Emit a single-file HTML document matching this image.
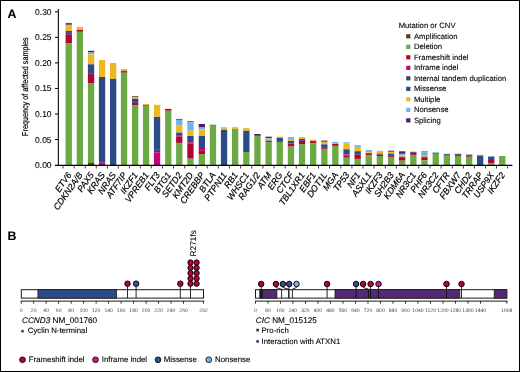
<!DOCTYPE html><html><head><meta charset="utf-8"><style>html,body{margin:0;padding:0;background:#fff;}svg{display:block;will-change:transform;font-family:"Liberation Sans",sans-serif;}</style></head><body>
<svg width="520" height="372" viewBox="0 0 520 372">
<style>text{stroke:#000;stroke-width:0.1px;text-rendering:geometricPrecision;}</style>
<rect x="0" y="0" width="520" height="372" fill="#fff"/>
<text x="7.5" y="18.0" font-size="12.3" font-weight="bold" fill="#000">A</text>
<text x="7.4" y="240.0" font-size="12.3" font-weight="bold" fill="#000">B</text>
<g fill="#000">
<rect x="57.8" y="9" width="1.05" height="156.6"/>
<rect x="55.0" y="139.05" width="3" height="1"/>
<rect x="55.0" y="113.50" width="3" height="1"/>
<rect x="55.0" y="87.95" width="3" height="1"/>
<rect x="55.0" y="62.40" width="3" height="1"/>
<rect x="55.0" y="36.85" width="3" height="1"/>
<rect x="55.0" y="11.30" width="3" height="1"/>
</g>
<g font-size="8.3" fill="#000" text-anchor="end">
<text x="51.6" y="168.05" font-size="8.5">0.00</text>
<text x="51.6" y="142.50" font-size="8.5">0.05</text>
<text x="51.6" y="116.95" font-size="8.5">0.10</text>
<text x="51.6" y="91.40" font-size="8.5">0.15</text>
<text x="51.6" y="65.85" font-size="8.5">0.20</text>
<text x="51.6" y="40.30" font-size="8.5">0.25</text>
<text x="51.6" y="14.75" font-size="8.5">0.30</text>
</g>
<text transform="translate(27.7,86.6) rotate(-90) scale(0.84,1)" text-anchor="middle" font-size="8.6" fill="#000" style="stroke:#000;stroke-width:0.22px">Frequency of affected samples</text>
<rect x="65.60" y="22.90" width="6.3" height="2.00" fill="#5a4888"/>
<rect x="65.60" y="24.90" width="6.3" height="6.10" fill="#ecba1f"/>
<rect x="65.60" y="31.00" width="6.3" height="1.90" fill="#2a4a88"/>
<rect x="65.60" y="32.90" width="6.3" height="1.40" fill="#c80078"/>
<rect x="65.60" y="34.30" width="6.3" height="8.80" fill="#ae0532"/>
<rect x="65.60" y="43.10" width="6.3" height="121.90" fill="#6aa944"/>
<rect x="76.70" y="26.90" width="6.3" height="0.80" fill="#70b3e6"/>
<rect x="76.70" y="27.70" width="6.3" height="2.30" fill="#ecba1f"/>
<rect x="76.70" y="30.00" width="6.3" height="1.80" fill="#ae0532"/>
<rect x="76.70" y="31.80" width="6.3" height="133.20" fill="#6aa944"/>
<rect x="87.90" y="50.80" width="6.3" height="1.70" fill="#4a1c6a"/>
<rect x="87.90" y="52.50" width="6.3" height="1.90" fill="#70b3e6"/>
<rect x="87.90" y="54.40" width="6.3" height="9.90" fill="#ecba1f"/>
<rect x="87.90" y="64.30" width="6.3" height="8.90" fill="#2a4a88"/>
<rect x="87.90" y="73.20" width="6.3" height="9.90" fill="#ae0532"/>
<rect x="87.90" y="83.10" width="6.3" height="79.90" fill="#6aa944"/>
<rect x="87.90" y="163.00" width="6.3" height="2.00" fill="#5c3814"/>
<rect x="98.90" y="59.90" width="6.3" height="17.10" fill="#ecba1f"/>
<rect x="98.90" y="77.00" width="6.3" height="85.60" fill="#2a4a88"/>
<rect x="98.90" y="162.60" width="6.3" height="2.40" fill="#c80078"/>
<rect x="110.00" y="62.90" width="6.3" height="16.00" fill="#ecba1f"/>
<rect x="110.00" y="78.90" width="6.3" height="86.10" fill="#2a4a88"/>
<rect x="120.90" y="68.90" width="6.3" height="1.90" fill="#ecba1f"/>
<rect x="120.90" y="70.80" width="6.3" height="1.10" fill="#2a4a88"/>
<rect x="120.90" y="71.90" width="6.3" height="0.85" fill="#ae0532"/>
<rect x="120.90" y="72.75" width="6.3" height="92.25" fill="#6aa944"/>
<rect x="132.00" y="96.00" width="6.3" height="0.80" fill="#4a1c6a"/>
<rect x="132.00" y="96.80" width="6.3" height="2.00" fill="#ecba1f"/>
<rect x="132.00" y="98.80" width="6.3" height="4.00" fill="#2a4a88"/>
<rect x="132.00" y="102.80" width="6.3" height="2.40" fill="#ae0532"/>
<rect x="132.00" y="105.20" width="6.3" height="59.80" fill="#6aa944"/>
<rect x="142.90" y="104.10" width="6.3" height="0.80" fill="#ecba1f"/>
<rect x="142.90" y="104.90" width="6.3" height="0.80" fill="#ae0532"/>
<rect x="142.90" y="105.70" width="6.3" height="59.30" fill="#6aa944"/>
<rect x="153.90" y="104.80" width="6.3" height="12.20" fill="#ecba1f"/>
<rect x="153.90" y="117.00" width="6.3" height="32.80" fill="#2a4a88"/>
<rect x="153.90" y="149.80" width="6.3" height="2.50" fill="#3d4463"/>
<rect x="153.90" y="152.30" width="6.3" height="12.70" fill="#c80078"/>
<rect x="165.10" y="108.90" width="6.3" height="1.90" fill="#ae0532"/>
<rect x="165.10" y="110.80" width="6.3" height="54.20" fill="#6aa944"/>
<rect x="176.10" y="118.90" width="6.3" height="0.90" fill="#4a1c6a"/>
<rect x="176.10" y="119.80" width="6.3" height="5.70" fill="#70b3e6"/>
<rect x="176.10" y="125.50" width="6.3" height="7.10" fill="#ecba1f"/>
<rect x="176.10" y="132.60" width="6.3" height="3.20" fill="#2a4a88"/>
<rect x="176.10" y="135.80" width="6.3" height="0.60" fill="#c80078"/>
<rect x="176.10" y="136.40" width="6.3" height="6.50" fill="#ae0532"/>
<rect x="176.10" y="142.90" width="6.3" height="22.10" fill="#6aa944"/>
<rect x="187.30" y="121.30" width="6.3" height="0.90" fill="#4a1c6a"/>
<rect x="187.30" y="122.20" width="6.3" height="8.30" fill="#70b3e6"/>
<rect x="187.30" y="130.50" width="6.3" height="5.50" fill="#ecba1f"/>
<rect x="187.30" y="136.00" width="6.3" height="6.30" fill="#2a4a88"/>
<rect x="187.30" y="142.30" width="6.3" height="1.40" fill="#c80078"/>
<rect x="187.30" y="143.70" width="6.3" height="15.00" fill="#ae0532"/>
<rect x="187.30" y="158.70" width="6.3" height="6.30" fill="#6aa944"/>
<rect x="198.70" y="124.00" width="6.3" height="3.50" fill="#4a1c6a"/>
<rect x="198.70" y="127.50" width="6.3" height="2.00" fill="#70b3e6"/>
<rect x="198.70" y="129.50" width="6.3" height="6.50" fill="#ecba1f"/>
<rect x="198.70" y="136.00" width="6.3" height="12.00" fill="#2a4a88"/>
<rect x="198.70" y="148.00" width="6.3" height="2.80" fill="#c80078"/>
<rect x="198.70" y="150.80" width="6.3" height="3.30" fill="#ae0532"/>
<rect x="198.70" y="154.10" width="6.3" height="10.90" fill="#6aa944"/>
<rect x="209.80" y="124.60" width="6.3" height="40.40" fill="#6aa944"/>
<rect x="220.90" y="127.20" width="6.3" height="2.60" fill="#ecba1f"/>
<rect x="220.90" y="129.80" width="6.3" height="35.20" fill="#2a4a88"/>
<rect x="232.00" y="127.20" width="6.3" height="1.70" fill="#ecba1f"/>
<rect x="232.00" y="128.90" width="6.3" height="36.10" fill="#6aa944"/>
<rect x="243.20" y="128.10" width="6.3" height="2.70" fill="#ecba1f"/>
<rect x="243.20" y="130.80" width="6.3" height="21.20" fill="#2a4a88"/>
<rect x="243.20" y="152.00" width="6.3" height="13.00" fill="#6aa944"/>
<rect x="254.30" y="134.00" width="6.3" height="1.20" fill="#4a1c6a"/>
<rect x="254.30" y="135.20" width="6.3" height="0.80" fill="#ae0532"/>
<rect x="254.30" y="136.00" width="6.3" height="29.00" fill="#6aa944"/>
<rect x="265.50" y="136.70" width="6.3" height="1.50" fill="#4a1c6a"/>
<rect x="265.50" y="138.20" width="6.3" height="0.60" fill="#70b3e6"/>
<rect x="265.50" y="138.80" width="6.3" height="1.90" fill="#ecba1f"/>
<rect x="265.50" y="140.70" width="6.3" height="1.80" fill="#2a4a88"/>
<rect x="265.50" y="142.50" width="6.3" height="22.50" fill="#6aa944"/>
<rect x="276.60" y="136.70" width="6.3" height="1.10" fill="#ecba1f"/>
<rect x="276.60" y="137.80" width="6.3" height="3.20" fill="#2a4a88"/>
<rect x="276.60" y="141.00" width="6.3" height="0.90" fill="#ae0532"/>
<rect x="276.60" y="141.90" width="6.3" height="23.10" fill="#6aa944"/>
<rect x="287.80" y="137.00" width="6.3" height="1.90" fill="#70b3e6"/>
<rect x="287.80" y="138.90" width="6.3" height="2.00" fill="#ecba1f"/>
<rect x="287.80" y="140.90" width="6.3" height="2.40" fill="#2a4a88"/>
<rect x="287.80" y="143.30" width="6.3" height="0.60" fill="#c80078"/>
<rect x="287.80" y="143.90" width="6.3" height="2.70" fill="#ae0532"/>
<rect x="287.80" y="146.60" width="6.3" height="18.40" fill="#6aa944"/>
<rect x="298.90" y="137.00" width="6.3" height="0.80" fill="#70b3e6"/>
<rect x="298.90" y="137.80" width="6.3" height="1.20" fill="#ecba1f"/>
<rect x="298.90" y="139.00" width="6.3" height="1.80" fill="#2a4a88"/>
<rect x="298.90" y="140.80" width="6.3" height="3.70" fill="#ae0532"/>
<rect x="298.90" y="144.50" width="6.3" height="20.50" fill="#6aa944"/>
<rect x="310.00" y="139.80" width="6.3" height="1.10" fill="#ecba1f"/>
<rect x="310.00" y="140.90" width="6.3" height="1.00" fill="#2a4a88"/>
<rect x="310.00" y="141.90" width="6.3" height="1.40" fill="#ae0532"/>
<rect x="310.00" y="143.30" width="6.3" height="21.70" fill="#6aa944"/>
<rect x="321.20" y="140.60" width="6.3" height="1.20" fill="#4a1c6a"/>
<rect x="321.20" y="141.80" width="6.3" height="2.60" fill="#ecba1f"/>
<rect x="321.20" y="144.40" width="6.3" height="3.40" fill="#2a4a88"/>
<rect x="321.20" y="147.80" width="6.3" height="1.10" fill="#ae0532"/>
<rect x="321.20" y="148.90" width="6.3" height="16.10" fill="#6aa944"/>
<rect x="332.20" y="141.90" width="6.3" height="1.10" fill="#70b3e6"/>
<rect x="332.20" y="143.00" width="6.3" height="1.00" fill="#ecba1f"/>
<rect x="332.20" y="144.00" width="6.3" height="1.90" fill="#ae0532"/>
<rect x="332.20" y="145.90" width="6.3" height="19.10" fill="#6aa944"/>
<rect x="343.40" y="142.20" width="6.3" height="1.40" fill="#70b3e6"/>
<rect x="343.40" y="143.60" width="6.3" height="5.70" fill="#ecba1f"/>
<rect x="343.40" y="149.30" width="6.3" height="5.20" fill="#2a4a88"/>
<rect x="343.40" y="154.50" width="6.3" height="1.10" fill="#c80078"/>
<rect x="343.40" y="155.60" width="6.3" height="2.10" fill="#ae0532"/>
<rect x="343.40" y="157.70" width="6.3" height="7.30" fill="#6aa944"/>
<rect x="354.50" y="145.10" width="6.3" height="1.80" fill="#70b3e6"/>
<rect x="354.50" y="146.90" width="6.3" height="4.30" fill="#ecba1f"/>
<rect x="354.50" y="151.20" width="6.3" height="3.40" fill="#2a4a88"/>
<rect x="354.50" y="154.60" width="6.3" height="4.30" fill="#ae0532"/>
<rect x="354.50" y="158.90" width="6.3" height="6.10" fill="#6aa944"/>
<rect x="365.60" y="150.00" width="6.3" height="2.20" fill="#70b3e6"/>
<rect x="365.60" y="152.20" width="6.3" height="0.80" fill="#ecba1f"/>
<rect x="365.60" y="153.00" width="6.3" height="0.70" fill="#2a4a88"/>
<rect x="365.60" y="153.70" width="6.3" height="1.50" fill="#ae0532"/>
<rect x="365.60" y="155.20" width="6.3" height="9.80" fill="#6aa944"/>
<rect x="376.70" y="150.90" width="6.3" height="0.90" fill="#70b3e6"/>
<rect x="376.70" y="151.80" width="6.3" height="1.90" fill="#ecba1f"/>
<rect x="376.70" y="153.70" width="6.3" height="0.90" fill="#2a4a88"/>
<rect x="376.70" y="154.60" width="6.3" height="1.40" fill="#ae0532"/>
<rect x="376.70" y="156.00" width="6.3" height="9.00" fill="#6aa944"/>
<rect x="387.90" y="150.70" width="6.3" height="1.10" fill="#4a1c6a"/>
<rect x="387.90" y="151.80" width="6.3" height="1.90" fill="#ecba1f"/>
<rect x="387.90" y="153.70" width="6.3" height="1.50" fill="#2a4a88"/>
<rect x="387.90" y="155.20" width="6.3" height="1.70" fill="#ae0532"/>
<rect x="387.90" y="156.90" width="6.3" height="8.10" fill="#6aa944"/>
<rect x="399.00" y="151.30" width="6.3" height="2.50" fill="#4a1c6a"/>
<rect x="399.00" y="153.80" width="6.3" height="1.70" fill="#70b3e6"/>
<rect x="399.00" y="155.50" width="6.3" height="1.30" fill="#ecba1f"/>
<rect x="399.00" y="156.80" width="6.3" height="1.00" fill="#2a4a88"/>
<rect x="399.00" y="157.80" width="6.3" height="2.90" fill="#ae0532"/>
<rect x="399.00" y="160.70" width="6.3" height="4.30" fill="#6aa944"/>
<rect x="410.20" y="151.60" width="6.3" height="0.60" fill="#70b3e6"/>
<rect x="410.20" y="152.20" width="6.3" height="0.70" fill="#4a1c6a"/>
<rect x="410.20" y="152.90" width="6.3" height="2.00" fill="#ae0532"/>
<rect x="410.20" y="154.90" width="6.3" height="10.10" fill="#6aa944"/>
<rect x="421.30" y="151.30" width="6.3" height="0.50" fill="#4a1c6a"/>
<rect x="421.30" y="151.80" width="6.3" height="4.00" fill="#70b3e6"/>
<rect x="421.30" y="155.80" width="6.3" height="1.00" fill="#ecba1f"/>
<rect x="421.30" y="156.80" width="6.3" height="1.00" fill="#2a4a88"/>
<rect x="421.30" y="157.80" width="6.3" height="2.60" fill="#ae0532"/>
<rect x="421.30" y="160.40" width="6.3" height="4.60" fill="#6aa944"/>
<rect x="432.60" y="152.30" width="6.3" height="0.60" fill="#70b3e6"/>
<rect x="432.60" y="152.90" width="6.3" height="0.90" fill="#2a4a88"/>
<rect x="432.60" y="153.80" width="6.3" height="11.20" fill="#6aa944"/>
<rect x="443.70" y="153.60" width="6.3" height="0.60" fill="#ecba1f"/>
<rect x="443.70" y="154.20" width="6.3" height="1.50" fill="#2a4a88"/>
<rect x="443.70" y="155.70" width="6.3" height="9.30" fill="#6aa944"/>
<rect x="454.90" y="153.80" width="6.3" height="0.90" fill="#4a1c6a"/>
<rect x="454.90" y="154.70" width="6.3" height="1.20" fill="#ae0532"/>
<rect x="454.90" y="155.90" width="6.3" height="9.10" fill="#6aa944"/>
<rect x="466.00" y="154.60" width="6.3" height="1.20" fill="#2a4a88"/>
<rect x="466.00" y="155.80" width="6.3" height="1.00" fill="#ae0532"/>
<rect x="466.00" y="156.80" width="6.3" height="8.20" fill="#6aa944"/>
<rect x="477.00" y="154.70" width="6.3" height="0.90" fill="#ecba1f"/>
<rect x="477.00" y="155.60" width="6.3" height="9.40" fill="#2a4a88"/>
<rect x="488.10" y="156.00" width="6.3" height="0.80" fill="#70b3e6"/>
<rect x="488.10" y="156.80" width="6.3" height="3.20" fill="#2a4a88"/>
<rect x="488.10" y="160.00" width="6.3" height="3.00" fill="#ae0532"/>
<rect x="488.10" y="163.00" width="6.3" height="2.00" fill="#6aa944"/>
<rect x="499.10" y="156.00" width="6.3" height="9.00" fill="#6aa944"/>
<rect x="55.0" y="164.75" width="457.4" height="1.25" fill="#000"/>
<g fill="#444">
<rect x="62.50" y="165.7" width="1" height="2.8"/>
<rect x="73.60" y="165.7" width="1" height="2.8"/>
<rect x="84.80" y="165.7" width="1" height="2.8"/>
<rect x="95.80" y="165.7" width="1" height="2.8"/>
<rect x="106.90" y="165.7" width="1" height="2.8"/>
<rect x="117.80" y="165.7" width="1" height="2.8"/>
<rect x="128.90" y="165.7" width="1" height="2.8"/>
<rect x="139.80" y="165.7" width="1" height="2.8"/>
<rect x="150.80" y="165.7" width="1" height="2.8"/>
<rect x="162.00" y="165.7" width="1" height="2.8"/>
<rect x="173.00" y="165.7" width="1" height="2.8"/>
<rect x="184.20" y="165.7" width="1" height="2.8"/>
<rect x="195.60" y="165.7" width="1" height="2.8"/>
<rect x="206.70" y="165.7" width="1" height="2.8"/>
<rect x="217.80" y="165.7" width="1" height="2.8"/>
<rect x="228.90" y="165.7" width="1" height="2.8"/>
<rect x="240.10" y="165.7" width="1" height="2.8"/>
<rect x="251.20" y="165.7" width="1" height="2.8"/>
<rect x="262.40" y="165.7" width="1" height="2.8"/>
<rect x="273.50" y="165.7" width="1" height="2.8"/>
<rect x="284.70" y="165.7" width="1" height="2.8"/>
<rect x="295.80" y="165.7" width="1" height="2.8"/>
<rect x="306.90" y="165.7" width="1" height="2.8"/>
<rect x="318.10" y="165.7" width="1" height="2.8"/>
<rect x="329.10" y="165.7" width="1" height="2.8"/>
<rect x="340.30" y="165.7" width="1" height="2.8"/>
<rect x="351.40" y="165.7" width="1" height="2.8"/>
<rect x="362.50" y="165.7" width="1" height="2.8"/>
<rect x="373.60" y="165.7" width="1" height="2.8"/>
<rect x="384.80" y="165.7" width="1" height="2.8"/>
<rect x="395.90" y="165.7" width="1" height="2.8"/>
<rect x="407.10" y="165.7" width="1" height="2.8"/>
<rect x="418.20" y="165.7" width="1" height="2.8"/>
<rect x="429.50" y="165.7" width="1" height="2.8"/>
<rect x="440.60" y="165.7" width="1" height="2.8"/>
<rect x="451.80" y="165.7" width="1" height="2.8"/>
<rect x="462.90" y="165.7" width="1" height="2.8"/>
<rect x="473.90" y="165.7" width="1" height="2.8"/>
<rect x="485.00" y="165.7" width="1" height="2.8"/>
<rect x="496.00" y="165.7" width="1" height="2.8"/>
<rect x="507.12" y="165.7" width="1" height="2.8"/>
</g>
<g font-size="9.0" font-style="italic" fill="#000" text-anchor="end" style="stroke-width:0.1px">
<text transform="translate(71.95,175.0) rotate(-55) scale(0.97,1)" style="stroke-width:0.2px">ETV6</text>
<text transform="translate(83.05,175.0) rotate(-55) scale(0.97,1)" style="stroke-width:0.2px">CDKN2A/B</text>
<text transform="translate(94.25,175.0) rotate(-55) scale(0.97,1)" style="stroke-width:0.2px">PAX5</text>
<text transform="translate(105.25,175.0) rotate(-55) scale(0.97,1)" style="stroke-width:0.2px">KRAS</text>
<text transform="translate(116.35,175.0) rotate(-55) scale(0.97,1)" style="stroke-width:0.2px">NRAS</text>
<text transform="translate(127.25,175.0) rotate(-55) scale(0.97,1)" style="stroke-width:0.2px">ATF7IP</text>
<text transform="translate(138.35,175.0) rotate(-55) scale(0.97,1)" style="stroke-width:0.2px">IKZF1</text>
<text transform="translate(149.25,175.0) rotate(-55) scale(0.97,1)" style="stroke-width:0.2px">VPREB1</text>
<text transform="translate(160.25,175.0) rotate(-55) scale(0.97,1)" style="stroke-width:0.2px">FLT3</text>
<text transform="translate(171.45,175.0) rotate(-55) scale(0.97,1)" style="stroke-width:0.2px">BTG1</text>
<text transform="translate(182.45,175.0) rotate(-55) scale(0.97,1)" style="stroke-width:0.2px">SETD2</text>
<text transform="translate(193.65,175.0) rotate(-55) scale(0.97,1)" style="stroke-width:0.2px">KMT2D</text>
<text transform="translate(205.05,175.0) rotate(-55) scale(0.97,1)" style="stroke-width:0.2px">CREBBP</text>
<text transform="translate(216.15,175.0) rotate(-55) scale(0.97,1)" style="stroke-width:0.2px">BTLA</text>
<text transform="translate(227.25,175.0) rotate(-55) scale(0.97,1)" style="stroke-width:0.2px">PTPN11</text>
<text transform="translate(238.35,175.0) rotate(-55) scale(0.97,1)" style="stroke-width:0.2px">RB1</text>
<text transform="translate(249.55,175.0) rotate(-55) scale(0.97,1)" style="stroke-width:0.2px">WHSC1</text>
<text transform="translate(260.65,175.0) rotate(-55) scale(0.97,1)" style="stroke-width:0.2px">RAG1/2</text>
<text transform="translate(271.85,175.0) rotate(-55) scale(0.97,1)" style="stroke-width:0.2px">ATM</text>
<text transform="translate(282.95,175.0) rotate(-55) scale(0.97,1)" style="stroke-width:0.2px">ERG</text>
<text transform="translate(294.15,175.0) rotate(-55) scale(0.97,1)" style="stroke-width:0.2px">CTCF</text>
<text transform="translate(305.25,175.0) rotate(-55) scale(0.97,1)" style="stroke-width:0.2px">TBL1XR1</text>
<text transform="translate(316.35,175.0) rotate(-55) scale(0.97,1)" style="stroke-width:0.2px">EBF1</text>
<text transform="translate(327.55,175.0) rotate(-55) scale(0.97,1)" style="stroke-width:0.2px">DOT1L</text>
<text transform="translate(338.55,175.0) rotate(-55) scale(0.97,1)" style="stroke-width:0.2px">MGA</text>
<text transform="translate(349.75,175.0) rotate(-55) scale(0.97,1)" style="stroke-width:0.2px">TP53</text>
<text transform="translate(360.85,175.0) rotate(-55) scale(0.97,1)" style="stroke-width:0.2px">NF1</text>
<text transform="translate(371.95,175.0) rotate(-55) scale(0.97,1)" style="stroke-width:0.2px">ASXL1</text>
<text transform="translate(383.05,175.0) rotate(-55) scale(0.97,1)" style="stroke-width:0.2px">IKZF3</text>
<text transform="translate(394.25,175.0) rotate(-55) scale(0.97,1)" style="stroke-width:0.2px">SH2B3</text>
<text transform="translate(405.35,175.0) rotate(-55) scale(0.97,1)" style="stroke-width:0.2px">KDM6A</text>
<text transform="translate(416.55,175.0) rotate(-55) scale(0.97,1)" style="stroke-width:0.2px">NR3C1</text>
<text transform="translate(427.65,175.0) rotate(-55) scale(0.97,1)" style="stroke-width:0.2px">PHF6</text>
<text transform="translate(438.95,175.0) rotate(-55) scale(0.97,1)" style="stroke-width:0.2px">NR3C2</text>
<text transform="translate(450.05,175.0) rotate(-55) scale(0.97,1)" style="stroke-width:0.2px">CFTR</text>
<text transform="translate(461.25,175.0) rotate(-55) scale(0.97,1)" style="stroke-width:0.2px">FBXW7</text>
<text transform="translate(472.35,175.0) rotate(-55) scale(0.97,1)" style="stroke-width:0.2px">CHD2</text>
<text transform="translate(483.35,175.0) rotate(-55) scale(0.97,1)" style="stroke-width:0.2px">TRRAP</text>
<text transform="translate(494.45,175.0) rotate(-55) scale(0.97,1)" style="stroke-width:0.2px">USP9X</text>
<text transform="translate(505.45,175.0) rotate(-55) scale(0.97,1)" style="stroke-width:0.2px">IKZF2</text>
</g>
<text x="398.7" y="27.9" font-size="7.7" fill="#000">Mutation or CNV</text>
<rect x="406.2" y="34.20" width="4.2" height="4.2" fill="#5c3814"/>
<text x="413.9" y="38.55" font-size="7.7" fill="#000">Amplification</text>
<rect x="406.2" y="44.71" width="4.2" height="4.2" fill="#6aa944"/>
<text x="413.9" y="49.06" font-size="7.7" fill="#000">Deletion</text>
<rect x="406.2" y="55.22" width="4.2" height="4.2" fill="#ae0532"/>
<text x="413.9" y="59.57" font-size="7.7" fill="#000">Frameshift indel</text>
<rect x="406.2" y="65.73" width="4.2" height="4.2" fill="#c80078"/>
<text x="413.9" y="70.08" font-size="7.7" fill="#000">Inframe indel</text>
<rect x="406.2" y="76.24" width="4.2" height="4.2" fill="#3d4463"/>
<text x="413.9" y="80.59" font-size="7.7" fill="#000">Internal tandem duplication</text>
<rect x="406.2" y="86.75" width="4.2" height="4.2" fill="#2a4a88"/>
<text x="413.9" y="91.10" font-size="7.7" fill="#000">Missense</text>
<rect x="406.2" y="97.26" width="4.2" height="4.2" fill="#ecba1f"/>
<text x="413.9" y="101.61" font-size="7.7" fill="#000">Multiple</text>
<rect x="406.2" y="107.77" width="4.2" height="4.2" fill="#70b3e6"/>
<text x="413.9" y="112.12" font-size="7.7" fill="#000">Nonsense</text>
<rect x="406.2" y="118.28" width="4.2" height="4.2" fill="#4a1c6a"/>
<text x="413.9" y="122.63" font-size="7.7" fill="#000">Splicing</text>
<rect x="21.30" y="289.70" width="182.20" height="8.40" fill="#fff" stroke="#1a1a1a" stroke-width="1"/>
<rect x="37.90" y="289.70" width="78.70" height="8.40" fill="#2c4a8a" stroke="#1a1a1a" stroke-width="0.8"/>
<rect x="20.80" y="300.60" width="183.40" height="1" fill="#1a1a1a"/>
<rect x="20.75" y="301.10" width="0.9" height="2.6" fill="#1a1a1a"/>
<text x="21.20" y="311.70" font-size="5.1" fill="#4a4a4a" text-anchor="middle" style="stroke:none">0</text>
<rect x="33.24" y="301.10" width="0.9" height="2.6" fill="#1a1a1a"/>
<text x="33.69" y="311.70" font-size="5.1" fill="#4a4a4a" text-anchor="middle" style="stroke:none">20</text>
<rect x="45.73" y="301.10" width="0.9" height="2.6" fill="#1a1a1a"/>
<text x="46.18" y="311.70" font-size="5.1" fill="#4a4a4a" text-anchor="middle" style="stroke:none">40</text>
<rect x="58.22" y="301.10" width="0.9" height="2.6" fill="#1a1a1a"/>
<text x="58.67" y="311.70" font-size="5.1" fill="#4a4a4a" text-anchor="middle" style="stroke:none">60</text>
<rect x="70.71" y="301.10" width="0.9" height="2.6" fill="#1a1a1a"/>
<text x="71.16" y="311.70" font-size="5.1" fill="#4a4a4a" text-anchor="middle" style="stroke:none">80</text>
<rect x="83.20" y="301.10" width="0.9" height="2.6" fill="#1a1a1a"/>
<text x="83.65" y="311.70" font-size="5.1" fill="#4a4a4a" text-anchor="middle" style="stroke:none">100</text>
<rect x="95.69" y="301.10" width="0.9" height="2.6" fill="#1a1a1a"/>
<text x="96.14" y="311.70" font-size="5.1" fill="#4a4a4a" text-anchor="middle" style="stroke:none">120</text>
<rect x="108.18" y="301.10" width="0.9" height="2.6" fill="#1a1a1a"/>
<text x="108.63" y="311.70" font-size="5.1" fill="#4a4a4a" text-anchor="middle" style="stroke:none">140</text>
<rect x="120.67" y="301.10" width="0.9" height="2.6" fill="#1a1a1a"/>
<text x="121.12" y="311.70" font-size="5.1" fill="#4a4a4a" text-anchor="middle" style="stroke:none">160</text>
<rect x="133.16" y="301.10" width="0.9" height="2.6" fill="#1a1a1a"/>
<text x="133.61" y="311.70" font-size="5.1" fill="#4a4a4a" text-anchor="middle" style="stroke:none">180</text>
<rect x="145.65" y="301.10" width="0.9" height="2.6" fill="#1a1a1a"/>
<text x="146.10" y="311.70" font-size="5.1" fill="#4a4a4a" text-anchor="middle" style="stroke:none">200</text>
<rect x="158.14" y="301.10" width="0.9" height="2.6" fill="#1a1a1a"/>
<text x="158.59" y="311.70" font-size="5.1" fill="#4a4a4a" text-anchor="middle" style="stroke:none">220</text>
<rect x="170.63" y="301.10" width="0.9" height="2.6" fill="#1a1a1a"/>
<text x="171.08" y="311.70" font-size="5.1" fill="#4a4a4a" text-anchor="middle" style="stroke:none">240</text>
<rect x="183.12" y="301.10" width="0.9" height="2.6" fill="#1a1a1a"/>
<text x="183.57" y="311.70" font-size="5.1" fill="#4a4a4a" text-anchor="middle" style="stroke:none">260</text>
<rect x="203.10" y="301.10" width="0.9" height="2.6" fill="#1a1a1a"/>
<text x="203.55" y="311.70" font-size="5.1" fill="#4a4a4a" text-anchor="middle" style="stroke:none">292</text>
<line x1="127.50" y1="283.70" x2="127.50" y2="298.10" stroke="#111" stroke-width="0.9"/>
<line x1="136.10" y1="283.70" x2="136.10" y2="298.10" stroke="#111" stroke-width="0.9"/>
<line x1="180.30" y1="283.70" x2="180.30" y2="298.10" stroke="#111" stroke-width="0.9"/>
<line x1="190.50" y1="283.70" x2="190.50" y2="298.10" stroke="#111" stroke-width="0.9"/>
<circle cx="127.50" cy="283.70" r="2.75" fill="#b8023a" stroke="#000" stroke-width="0.95"/>
<circle cx="136.10" cy="283.70" r="2.75" fill="#30528f" stroke="#000" stroke-width="0.95"/>
<circle cx="180.30" cy="283.70" r="2.75" fill="#b8023a" stroke="#000" stroke-width="0.95"/>
<circle cx="190.50" cy="283.70" r="2.65" fill="#b8023a" stroke="#000" stroke-width="0.95"/>
<circle cx="196.60" cy="283.70" r="2.65" fill="#b8023a" stroke="#000" stroke-width="0.95"/>
<circle cx="190.50" cy="278.40" r="2.65" fill="#b8023a" stroke="#000" stroke-width="0.95"/>
<circle cx="196.60" cy="278.40" r="2.65" fill="#b8023a" stroke="#000" stroke-width="0.95"/>
<circle cx="190.50" cy="273.10" r="2.65" fill="#b8023a" stroke="#000" stroke-width="0.95"/>
<circle cx="196.60" cy="273.10" r="2.65" fill="#b8023a" stroke="#000" stroke-width="0.95"/>
<circle cx="190.50" cy="267.80" r="2.65" fill="#b8023a" stroke="#000" stroke-width="0.95"/>
<circle cx="196.60" cy="267.80" r="2.65" fill="#b8023a" stroke="#000" stroke-width="0.95"/>
<circle cx="190.50" cy="262.50" r="2.65" fill="#b8023a" stroke="#000" stroke-width="0.95"/>
<circle cx="196.60" cy="262.50" r="2.65" fill="#b8023a" stroke="#000" stroke-width="0.95"/>
<text transform="translate(196.3,256.4) rotate(-90)" font-size="8.3" fill="#000">R271fs</text>
<rect x="255.50" y="289.70" width="251.00" height="8.40" fill="#fff" stroke="#1a1a1a" stroke-width="1"/>
<rect x="262.30" y="289.70" width="14.60" height="8.40" fill="#552974" stroke="#1a1a1a" stroke-width="0.8"/>
<rect x="335.00" y="289.70" width="124.80" height="8.40" fill="#552974" stroke="#1a1a1a" stroke-width="0.8"/>
<rect x="494.20" y="289.70" width="12.80" height="8.40" fill="#552974" stroke="#1a1a1a" stroke-width="0.8"/>
<rect x="259.80" y="289.70" width="2.50" height="8.40" fill="#14244f" stroke="#1a1a1a" stroke-width="0.8"/>
<rect x="255.00" y="300.60" width="252.50" height="1" fill="#1a1a1a"/>
<rect x="254.95" y="301.10" width="0.9" height="2.6" fill="#1a1a1a"/>
<text x="255.40" y="311.70" font-size="5.1" fill="#4a4a4a" text-anchor="middle" style="stroke:none">0</text>
<rect x="267.46" y="301.10" width="0.9" height="2.6" fill="#1a1a1a"/>
<text x="267.91" y="311.70" font-size="5.1" fill="#4a4a4a" text-anchor="middle" style="stroke:none">80</text>
<rect x="279.97" y="301.10" width="0.9" height="2.6" fill="#1a1a1a"/>
<text x="280.42" y="311.70" font-size="5.1" fill="#4a4a4a" text-anchor="middle" style="stroke:none">160</text>
<rect x="292.47" y="301.10" width="0.9" height="2.6" fill="#1a1a1a"/>
<text x="292.92" y="311.70" font-size="5.1" fill="#4a4a4a" text-anchor="middle" style="stroke:none">240</text>
<rect x="304.98" y="301.10" width="0.9" height="2.6" fill="#1a1a1a"/>
<text x="305.43" y="311.70" font-size="5.1" fill="#4a4a4a" text-anchor="middle" style="stroke:none">320</text>
<rect x="317.49" y="301.10" width="0.9" height="2.6" fill="#1a1a1a"/>
<text x="317.94" y="311.70" font-size="5.1" fill="#4a4a4a" text-anchor="middle" style="stroke:none">400</text>
<rect x="330.00" y="301.10" width="0.9" height="2.6" fill="#1a1a1a"/>
<text x="330.45" y="311.70" font-size="5.1" fill="#4a4a4a" text-anchor="middle" style="stroke:none">480</text>
<rect x="342.51" y="301.10" width="0.9" height="2.6" fill="#1a1a1a"/>
<text x="342.96" y="311.70" font-size="5.1" fill="#4a4a4a" text-anchor="middle" style="stroke:none">560</text>
<rect x="355.01" y="301.10" width="0.9" height="2.6" fill="#1a1a1a"/>
<text x="355.46" y="311.70" font-size="5.1" fill="#4a4a4a" text-anchor="middle" style="stroke:none">640</text>
<rect x="367.52" y="301.10" width="0.9" height="2.6" fill="#1a1a1a"/>
<text x="367.97" y="311.70" font-size="5.1" fill="#4a4a4a" text-anchor="middle" style="stroke:none">720</text>
<rect x="380.03" y="301.10" width="0.9" height="2.6" fill="#1a1a1a"/>
<text x="380.48" y="311.70" font-size="5.1" fill="#4a4a4a" text-anchor="middle" style="stroke:none">800</text>
<rect x="392.54" y="301.10" width="0.9" height="2.6" fill="#1a1a1a"/>
<text x="392.99" y="311.70" font-size="5.1" fill="#4a4a4a" text-anchor="middle" style="stroke:none">880</text>
<rect x="405.05" y="301.10" width="0.9" height="2.6" fill="#1a1a1a"/>
<text x="405.50" y="311.70" font-size="5.1" fill="#4a4a4a" text-anchor="middle" style="stroke:none">960</text>
<rect x="417.55" y="301.10" width="0.9" height="2.6" fill="#1a1a1a"/>
<text x="418.00" y="311.70" font-size="5.1" fill="#4a4a4a" text-anchor="middle" style="stroke:none">1040</text>
<rect x="430.06" y="301.10" width="0.9" height="2.6" fill="#1a1a1a"/>
<text x="430.51" y="311.70" font-size="5.1" fill="#4a4a4a" text-anchor="middle" style="stroke:none">1120</text>
<rect x="442.57" y="301.10" width="0.9" height="2.6" fill="#1a1a1a"/>
<text x="443.02" y="311.70" font-size="5.1" fill="#4a4a4a" text-anchor="middle" style="stroke:none">1200</text>
<rect x="455.08" y="301.10" width="0.9" height="2.6" fill="#1a1a1a"/>
<text x="455.53" y="311.70" font-size="5.1" fill="#4a4a4a" text-anchor="middle" style="stroke:none">1280</text>
<rect x="467.59" y="301.10" width="0.9" height="2.6" fill="#1a1a1a"/>
<text x="468.04" y="311.70" font-size="5.1" fill="#4a4a4a" text-anchor="middle" style="stroke:none">1360</text>
<rect x="480.09" y="301.10" width="0.9" height="2.6" fill="#1a1a1a"/>
<text x="480.54" y="311.70" font-size="5.1" fill="#4a4a4a" text-anchor="middle" style="stroke:none">1440</text>
<rect x="506.36" y="301.10" width="0.9" height="2.6" fill="#1a1a1a"/>
<text x="506.81" y="311.70" font-size="5.1" fill="#4a4a4a" text-anchor="middle" style="stroke:none">1608</text>
<line x1="261.20" y1="284.00" x2="261.20" y2="298.10" stroke="#111" stroke-width="0.9"/>
<polyline points="275.90,284.00 275.90,287.50 281.60,289.20 281.60,298.10" fill="none" stroke="#111" stroke-width="0.9"/>
<polyline points="282.80,284.00 282.80,287.50 288.70,289.20 288.70,298.10" fill="none" stroke="#111" stroke-width="0.9"/>
<line x1="289.00" y1="284.00" x2="289.00" y2="298.10" stroke="#111" stroke-width="0.9"/>
<polyline points="296.50,284.00 296.50,287.50 292.40,289.20 292.40,298.10" fill="none" stroke="#111" stroke-width="0.9"/>
<line x1="327.10" y1="284.00" x2="327.10" y2="298.10" stroke="#111" stroke-width="0.9"/>
<line x1="356.10" y1="284.00" x2="356.10" y2="298.10" stroke="#111" stroke-width="0.9"/>
<polyline points="363.10,284.00 363.10,287.50 368.50,289.20 368.50,298.10" fill="none" stroke="#111" stroke-width="0.9"/>
<line x1="370.50" y1="284.00" x2="370.50" y2="298.10" stroke="#111" stroke-width="0.9"/>
<line x1="378.50" y1="284.00" x2="378.50" y2="298.10" stroke="#111" stroke-width="0.9"/>
<line x1="446.50" y1="284.00" x2="446.50" y2="298.10" stroke="#111" stroke-width="0.9"/>
<line x1="461.50" y1="284.00" x2="461.50" y2="298.10" stroke="#111" stroke-width="0.9"/>
<circle cx="261.20" cy="284.00" r="2.75" fill="#b8023a" stroke="#000" stroke-width="0.95"/>
<circle cx="275.90" cy="284.00" r="2.75" fill="#b8023a" stroke="#000" stroke-width="0.95"/>
<circle cx="282.80" cy="284.00" r="2.75" fill="#30528f" stroke="#000" stroke-width="0.95"/>
<circle cx="289.20" cy="284.00" r="2.75" fill="#30528f" stroke="#000" stroke-width="0.95"/>
<circle cx="296.50" cy="284.00" r="2.75" fill="#74b6ea" stroke="#000" stroke-width="0.95"/>
<circle cx="327.10" cy="284.00" r="2.75" fill="#b8023a" stroke="#000" stroke-width="0.95"/>
<circle cx="356.10" cy="284.00" r="2.75" fill="#30528f" stroke="#000" stroke-width="0.95"/>
<circle cx="363.10" cy="284.00" r="2.75" fill="#b8023a" stroke="#000" stroke-width="0.95"/>
<circle cx="370.60" cy="284.00" r="2.75" fill="#b8023a" stroke="#000" stroke-width="0.95"/>
<circle cx="378.50" cy="284.00" r="2.75" fill="#d4148c" stroke="#000" stroke-width="0.95"/>
<circle cx="446.50" cy="284.00" r="2.75" fill="#b8023a" stroke="#000" stroke-width="0.95"/>
<circle cx="461.50" cy="284.00" r="2.75" fill="#b8023a" stroke="#000" stroke-width="0.95"/>
<text x="22" y="322.7" font-size="8.2" fill="#000"><tspan font-style="italic">CCND3</tspan> NM_001760</text>
<rect x="21.2" y="329.9" width="2.6" height="2.6" fill="#2c4a8a"/>
<text x="27.8" y="333.4" font-size="7.8" fill="#000">Cyclin N-terminal</text>
<text x="255.8" y="322.7" font-size="8.2" fill="#000"><tspan font-style="italic">CIC</tspan> NM_015125</text>
<rect x="256.3" y="328.8" width="2.6" height="2.6" fill="#4a1c6a"/>
<text x="261.5" y="332.5" font-size="7.8" fill="#000">Pro-rich</text>
<rect x="256.3" y="340.1" width="2.6" height="2.6" fill="#1f3c85"/>
<text x="261.5" y="343.8" font-size="7.8" fill="#000">Interaction with ATXN1</text>
<circle cx="22.5" cy="359.75" r="2.85" fill="#b8023a" stroke="#000" stroke-width="0.85"/>
<text x="28.75" y="362.2" font-size="7.85" fill="#000">Frameshift indel</text>
<circle cx="95.5" cy="359.75" r="2.85" fill="#d4148c" stroke="#000" stroke-width="0.85"/>
<text x="101.75" y="362.2" font-size="7.85" fill="#000">Inframe indel</text>
<circle cx="158.0" cy="359.75" r="2.85" fill="#30528f" stroke="#000" stroke-width="0.85"/>
<text x="163.75" y="362.2" font-size="7.85" fill="#000">Missense</text>
<circle cx="208.75" cy="359.75" r="2.85" fill="#74b6ea" stroke="#000" stroke-width="0.85"/>
<text x="215.0" y="362.2" font-size="7.85" fill="#000">Nonsense</text>
<rect x="0.5" y="0.5" width="519" height="371" fill="none" stroke="#000" stroke-width="1"/>
</svg></body></html>
